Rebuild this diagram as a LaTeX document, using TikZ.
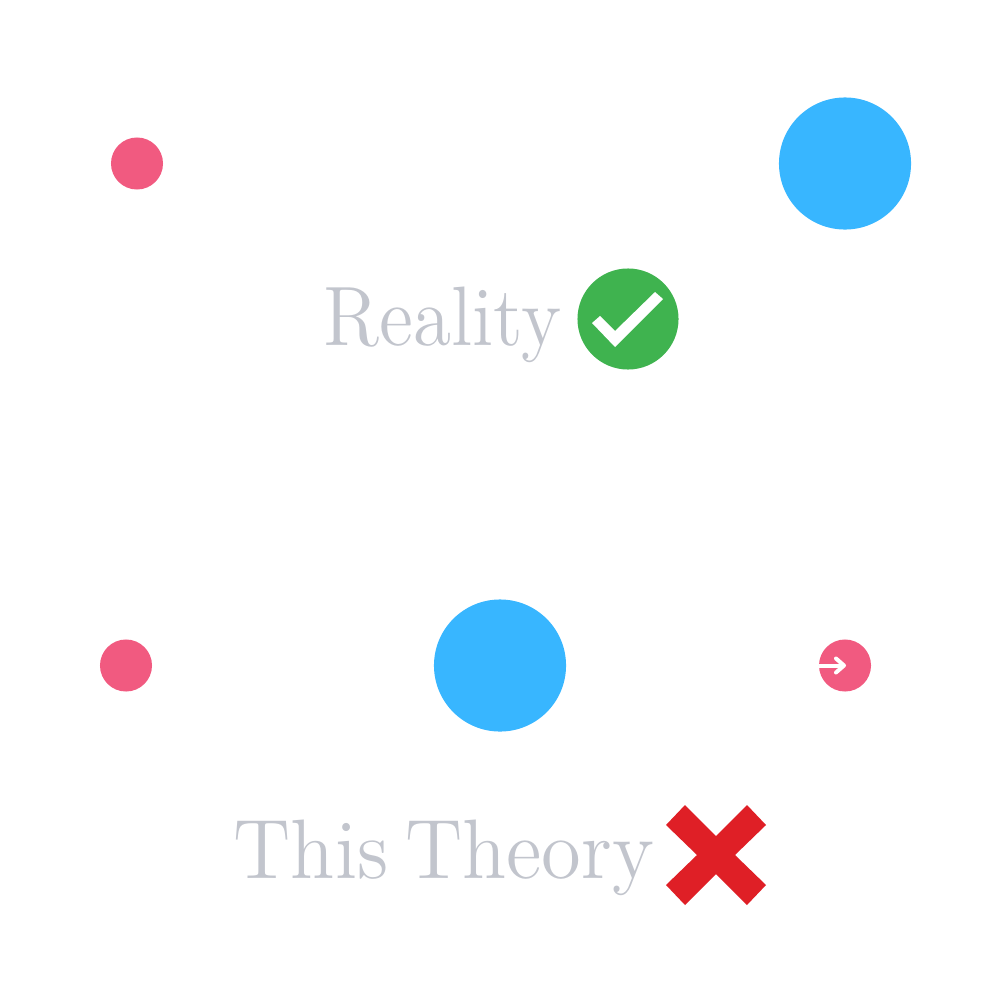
\documentclass[tikz,border=0pt]{standalone}
\usepackage{fontspec}
\newfontfamily\wordfont{lmroman12-regular.otf}
\newcommand{\wordstyle}{\wordfont\fontsize{24}{24}\selectfont\spaceskip=0.21em\relax}
\usepackage{tikz}
\usetikzlibrary{arrows.meta}
\definecolor{pinkdot}{HTML}{F15A80}
\definecolor{bluedot}{HTML}{38B6FF}
\definecolor{greendot}{HTML}{3FB34F}
\definecolor{redcross}{HTML}{DF1F26}
\definecolor{greytext}{HTML}{C2C5CD}
\begin{document}
\begin{tikzpicture}[x=0.01cm, y=-0.01cm,
  dot/.style = {circle, draw=none, inner sep=0pt},
  small/.style = {dot, fill=pinkdot, minimum size=0.52cm},
  big/.style = {dot, fill=bluedot, minimum size=1.32cm},
  word/.style = {text=greytext, inner sep=0pt, anchor=base west, font=\wordstyle}]
\useasboundingbox (0,0) rectangle (1000,1000);

\node[small] (p1) at (137,163.5) {};
\node[big] (b1) at (845,163.5) {};
\node[word] (reality) at (323,345) {\scalebox{0.92}[1]{Reality}};
\node[dot, fill=greendot, minimum size=1.01cm] (ok) at (628,319) {};
\fill[white] (592,323) -- (600,316) -- (615,331) -- (655,292) -- (663,299) -- (615,347) -- cycle;

\node[small] (p2) at (126,665.5) {};
\node[big] (b2) at (500,665.5) {};
\node[small] (p3) at (845,665.5) {};
\coordinate (a1) at (819,665.5);
\coordinate (a2) at (846,665.5);
\draw[white, line width=0.04cm, -{Straight Barb[length=0.08cm, width=0.14cm, round]}] (a1) -- (a2);

\node[word] (theory) at (233,878) {\scalebox{0.96}[1]{This Theory}};
\fill[redcross] (685,805) -- (716,836) -- (747,805) -- (766,825) -- (735,855) -- (766,885)
  -- (747,905) -- (716,874) -- (685,905) -- (666,885) -- (697,855) -- (666,825) -- cycle;
\end{tikzpicture}
\end{document}
